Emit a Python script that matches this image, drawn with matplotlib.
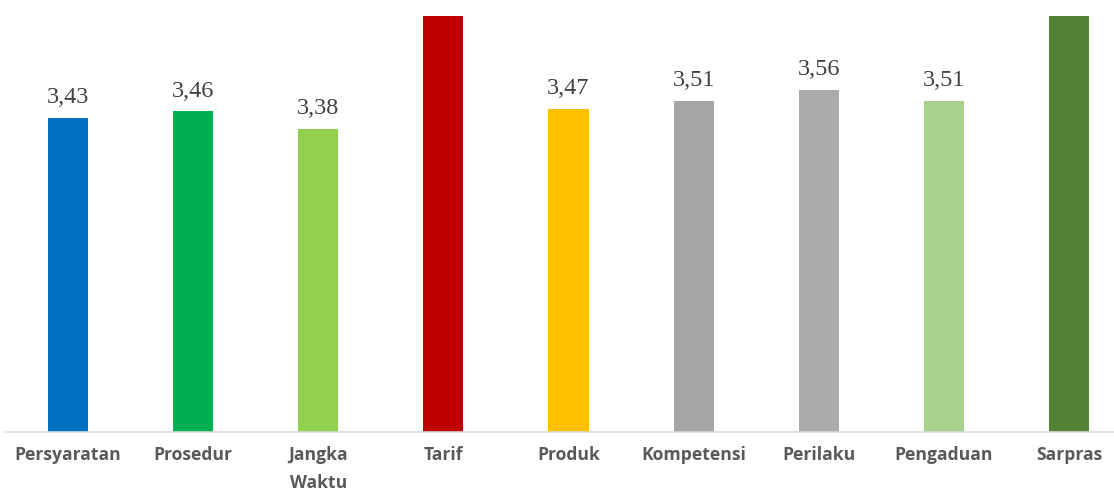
import matplotlib.pyplot as plt

# survey scores per aspect (Tarif and Sarpras run past the top of the axis)
categories = ['Persyaratan', 'Prosedur', 'Jangka\nWaktu', 'Tarif', 'Produk',
              'Kompetensi', 'Perilaku', 'Pengaduan', 'Sarpras']
values = [3.43, 3.46, 3.38, 4.00, 3.47, 3.51, 3.56, 3.51, 4.00]
colors = ['#0070C0', '#00B050', '#92D050', '#C00000', '#FFC000',
          '#A5A5A5', '#ABABAB', '#A9D18E', '#548235']

ymin, ymax = 1.98, 3.90

fig = plt.figure(figsize=(11.14, 4.92), dpi=100)
ax = fig.add_axes([5.5 / 1114, 60 / 492, 1 - 5.5 / 1114, 416 / 492])

x = range(len(categories))
ax.bar(x, values, width=0.32, color=colors)

for i, v in enumerate(values):
    if v <= ymax:
        ax.annotate(f'{v:.2f}'.replace('.', ','), (i, v), xytext=(0, 7),
                    textcoords='offset points', ha='center', va='bottom',
                    fontsize=17.5, family='Liberation Serif', color='#404040')

ax.set_ylim(ymin, ymax)
ax.set_xlim(-0.5, 8.36)
ax.set_xticks(list(x))
ax.set_xticklabels(categories, fontsize=12.6, fontweight='bold', family='Open Sans',
                   color='#595959', linespacing=1.7, va='top')
ax.tick_params(axis='x', length=0, pad=10)
ax.set_yticks([])

for s in ['top', 'right', 'left']:
    ax.spines[s].set_visible(False)
ax.spines['bottom'].set_color('#D9D9D9')
ax.spines['bottom'].set_linewidth(1.2)

fig.savefig('out.png', dpi=100)
